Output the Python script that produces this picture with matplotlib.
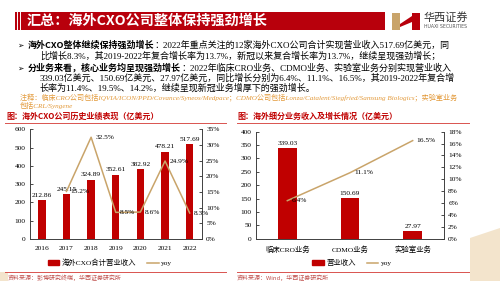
import matplotlib
matplotlib.use("Agg")
import matplotlib.pyplot as plt
from matplotlib.patches import Rectangle, Polygon
from matplotlib.lines import Line2D
import numpy as np

# ---- data ----
years = ["2016", "2017", "2018", "2019", "2020", "2021", "2022"]
revenue = [212.86, 245.15, 324.89, 352.61, 382.92, 478.21, 517.69]
yoy_years = ["2017", "2018", "2019", "2020", "2021", "2022"]
yoy = [15.2, 32.5, 8.5, 8.6, 24.9, 8.3]

segments = ["临床CRO业务", "CDMO业务", "实验室业务"]
seg_revenue = [339.03, 150.69, 27.97]
seg_yoy = [6.4, 11.1, 16.5]

RED = "#C00000"
GOLD = "#C9A46A"
SERIF = ["Liberation Serif", "Noto Sans CJK SC"]
CJK = ["Noto Sans CJK SC", "DejaVu Sans"]

W, H = 500, 281
fig = plt.figure(figsize=(5, 2.81), dpi=100)
fig.patch.set_facecolor("white")


def fx(x):
    return x / W


def fy(y):
    return 1 - y / H


# ---- decoration: title bar, logo, background paper ----
fig.patches.append(Polygon([(fx(470), fy(238)), (fx(500), fy(228)), (fx(500), fy(281)), (fx(470), fy(281))],
                           closed=True, transform=fig.transFigure, facecolor="#F3E4CC", edgecolor="none"))
fig.patches.append(Rectangle((fx(0), fy(281)), fx(8), 9 / H, transform=fig.transFigure,
                             facecolor="#F3E4CC", edgecolor="none"))
fig.patches.append(Rectangle((fx(15), fy(30)), fx(370), 18.5 / H, transform=fig.transFigure,
                             facecolor="#B8000C", edgecolor="none"))
for xl in (16.8, 20.4):
    fig.lines.append(Line2D([fx(xl), fx(xl)], [fy(30), fy(11.5)], transform=fig.transFigure,
                            color="white", lw=0.7))
fig.text(fx(27), fy(21), "汇总：海外CXO公司整体保持强劲增长", family=CJK, fontweight="bold",
         fontsize=10.2, color="white", va="center", ha="left")

# logo
fig.patches.append(Rectangle((fx(392), fy(30)), fx(8), 17 / H, transform=fig.transFigure,
                             facecolor="#C9A46A", edgecolor="none"))
fig.patches.append(Polygon([(fx(400), fy(24)), (fx(412), fy(16)), (fx(412), fy(13)), (fx(420), fy(13)),
                            (fx(420), fy(30)), (fx(412), fy(30)), (fx(412), fy(22)), (fx(400), fy(27))],
                           closed=True, transform=fig.transFigure, facecolor="#B8000C", edgecolor="none"))
fig.text(fx(424), fy(17.5), "华西证券", family=CJK, fontsize=8, color="#333333", va="center", ha="left")
fig.text(fx(424), fy(26.5), "HUAXI SECURITIES", family=["DejaVu Sans"], fontsize=3.3, color="#555555",
         va="center", ha="left")

# ---- bullet text ----
renderer = fig.canvas.get_renderer()
BODY = 6.5


def bullet_line(y, bold_part, rest):
    fig.text(fx(17), fy(y), "➢", family=["DejaVu Sans"], fontsize=5.5, va="center", ha="left")
    t = fig.text(fx(28), fy(y), bold_part, family=CJK, fontweight="bold", fontstyle="italic",
                 fontsize=BODY, va="center", ha="left")
    bb = t.get_window_extent(renderer=renderer)
    fig.text(bb.x1 / fig.bbox.width, fy(y), rest, family=SERIF, fontsize=BODY, va="center", ha="left")


bullet_line(45.5, "海外CXO整体继续保持强劲增长",
            "：2022年重点关注的12家海外CXO公司合计实现营业收入517.69亿美元，同")
fig.text(fx(40), fy(56), "比增长8.3%，其2019-2022年复合增长率为13.7%，新冠以来复合增长率为13.7%，继续呈现强劲增长；",
         family=SERIF, fontsize=BODY, va="center", ha="left")
bullet_line(68, "分业务来看，核心业务均呈现强劲增长",
            "：2022年临床CRO业务、CDMO业务、实验室业务分别实现营业收入")
fig.text(fx(40), fy(78), "339.03亿美元、150.69亿美元、27.97亿美元，同比增长分别为6.4%、11.1%、16.5%，其2019-2022年复合增",
         family=SERIF, fontsize=BODY, va="center", ha="left")
fig.text(fx(40), fy(88), "长率为11.4%、19.5%、14.2%，继续呈现新冠业务增厚下的强劲增长。",
         family=SERIF, fontsize=BODY, va="center", ha="left")
fig.text(fx(20), fy(97), "注释：临床CRO公司包括IQVIA/ICON/PPD/Covance/Syneos/Medpace；CDMO公司包括Lonza/Catalent/Siegfried/Samsung Biologics；实验室业务",
         family=SERIF, fontsize=5.1, fontstyle="italic", color="#E39A3B", va="center", ha="left")
fig.text(fx(20), fy(105.5), "包括CRL/Syngene",
         family=SERIF, fontsize=5.1, fontstyle="italic", color="#E39A3B", va="center", ha="left")

# ---- chart titles and separators ----
fig.text(fx(6), fy(116.5), "图：海外CXO公司历史业绩表现（亿美元）", family=CJK, fontweight="bold",
         fontsize=5.8, color="#C00000", va="center", ha="left")
fig.text(fx(237), fy(116.5), "图：海外细分业务收入及增长情况（亿美元）", family=CJK, fontweight="bold",
         fontsize=5.8, color="#C00000", va="center", ha="left")
for x0, x1 in ((5, 226), (237, 469)):
    for yy in (122.8, 271.5):
        fig.lines.append(Line2D([fx(x0), fx(x1)], [fy(yy), fy(yy)], transform=fig.transFigure,
                                color="#D9534F", lw=0.7))
fig.text(fx(8), fy(277.5), "资料来源：彭博研究终端，华西证券研究所", family=CJK, fontsize=4.3,
         color="#C0504D", va="center", ha="left")
fig.text(fx(237), fy(277.5), "资料来源：Wind，华西证券研究所", family=CJK, fontsize=4.3,
         color="#C0504D", va="center", ha="left")

TICK = 5.3


def style_axes(ax, ax2):
    for a in (ax, ax2):
        a.spines["top"].set_visible(False)
        for s in ("left", "right", "bottom"):
            a.spines[s].set_color("#404040")
            a.spines[s].set_linewidth(0.6)
        a.tick_params(axis="y", direction="in", length=2, width=0.5, labelsize=TICK, pad=3)
        for lab in a.get_yticklabels():
            lab.set_family(SERIF)
    ax.tick_params(axis="x", length=0, labelsize=TICK, pad=5)
    for lab in ax.get_xticklabels():
        lab.set_family(SERIF)
    ax.set_facecolor("none")
    ax2.set_facecolor("none")


# ---- left chart ----
ax = fig.add_axes([fx(29.5), fy(239), fx(172.5), (239 - 129.4) / H])
x = np.arange(len(years))
ax.bar(x, revenue, width=0.3, color=RED, zorder=2)
ax.set_xlim(-0.5, len(years) - 0.5)
ax.set_ylim(0, 600)
ax.set_yticks(range(0, 601, 100))
ax.set_xticks(x)
ax.set_xticklabels(years)
for xi, v in zip(x, revenue):
    ax.text(xi, v + 12, f"{v:.2f}", ha="center", va="bottom", fontsize=TICK, family=SERIF)
ax2 = ax.twinx()
xy = [years.index(y) for y in yoy_years]
ax2.plot(xy, yoy, color=GOLD, lw=1.1, zorder=3)
ax2.set_ylim(0, 35)
ax2.set_yticks(range(0, 36, 5))
ax2.set_yticklabels([f"{v}%" for v in range(0, 36, 5)])
for xi, v in zip(xy, yoy):
    ax2.annotate(f"{v}%", (xi, v), xytext=(3, 0), textcoords="offset points", ha="left", va="center",
                 fontsize=TICK, family=SERIF)
style_axes(ax, ax2)

# ---- right chart ----
bx = fig.add_axes([fx(256), fy(238.7), fx(188), 107 / H])
xs = np.arange(len(segments))
bx.bar(xs, seg_revenue, width=0.3, color=RED, zorder=2)
bx.set_xlim(-0.5, len(segments) - 0.5)
bx.set_ylim(0, 400)
bx.set_yticks(range(0, 401, 50))
bx.set_xticks(xs)
bx.set_xticklabels(segments)
for xi, v in zip(xs, seg_revenue):
    bx.text(xi, v + 9, f"{v:.2f}", ha="center", va="bottom", fontsize=TICK, family=SERIF)
bx2 = bx.twinx()
bx2.plot(xs, seg_yoy, color=GOLD, lw=1.1, zorder=3)
bx2.set_ylim(0, 18)
bx2.set_yticks(range(0, 19, 2))
bx2.set_yticklabels([f"{v}%" for v in range(0, 19, 2)])
for xi, v in zip(xs, seg_yoy):
    bx2.annotate(f"{v}%", (xi, v), xytext=(3, 0), textcoords="offset points", ha="left", va="center",
                 fontsize=TICK, family=SERIF)
style_axes(bx, bx2)

# ---- legends ----
for cx, lab in ((110, "海外CXO合计营业收入"), (352, "营业收入")):
    handles = [Rectangle((0, 0), 1, 1, color=RED), Line2D([0], [0], color=GOLD, lw=1.1)]
    fig.legend(handles, [lab, "yoy"], loc="center", bbox_to_anchor=(fx(cx), fy(262.5)), ncol=2,
               frameon=False, prop={"family": SERIF, "size": TICK}, handlelength=1.6, handleheight=0.6,
               columnspacing=1.5, handletextpad=0.3)

fig.savefig("out.png", dpi=100)
